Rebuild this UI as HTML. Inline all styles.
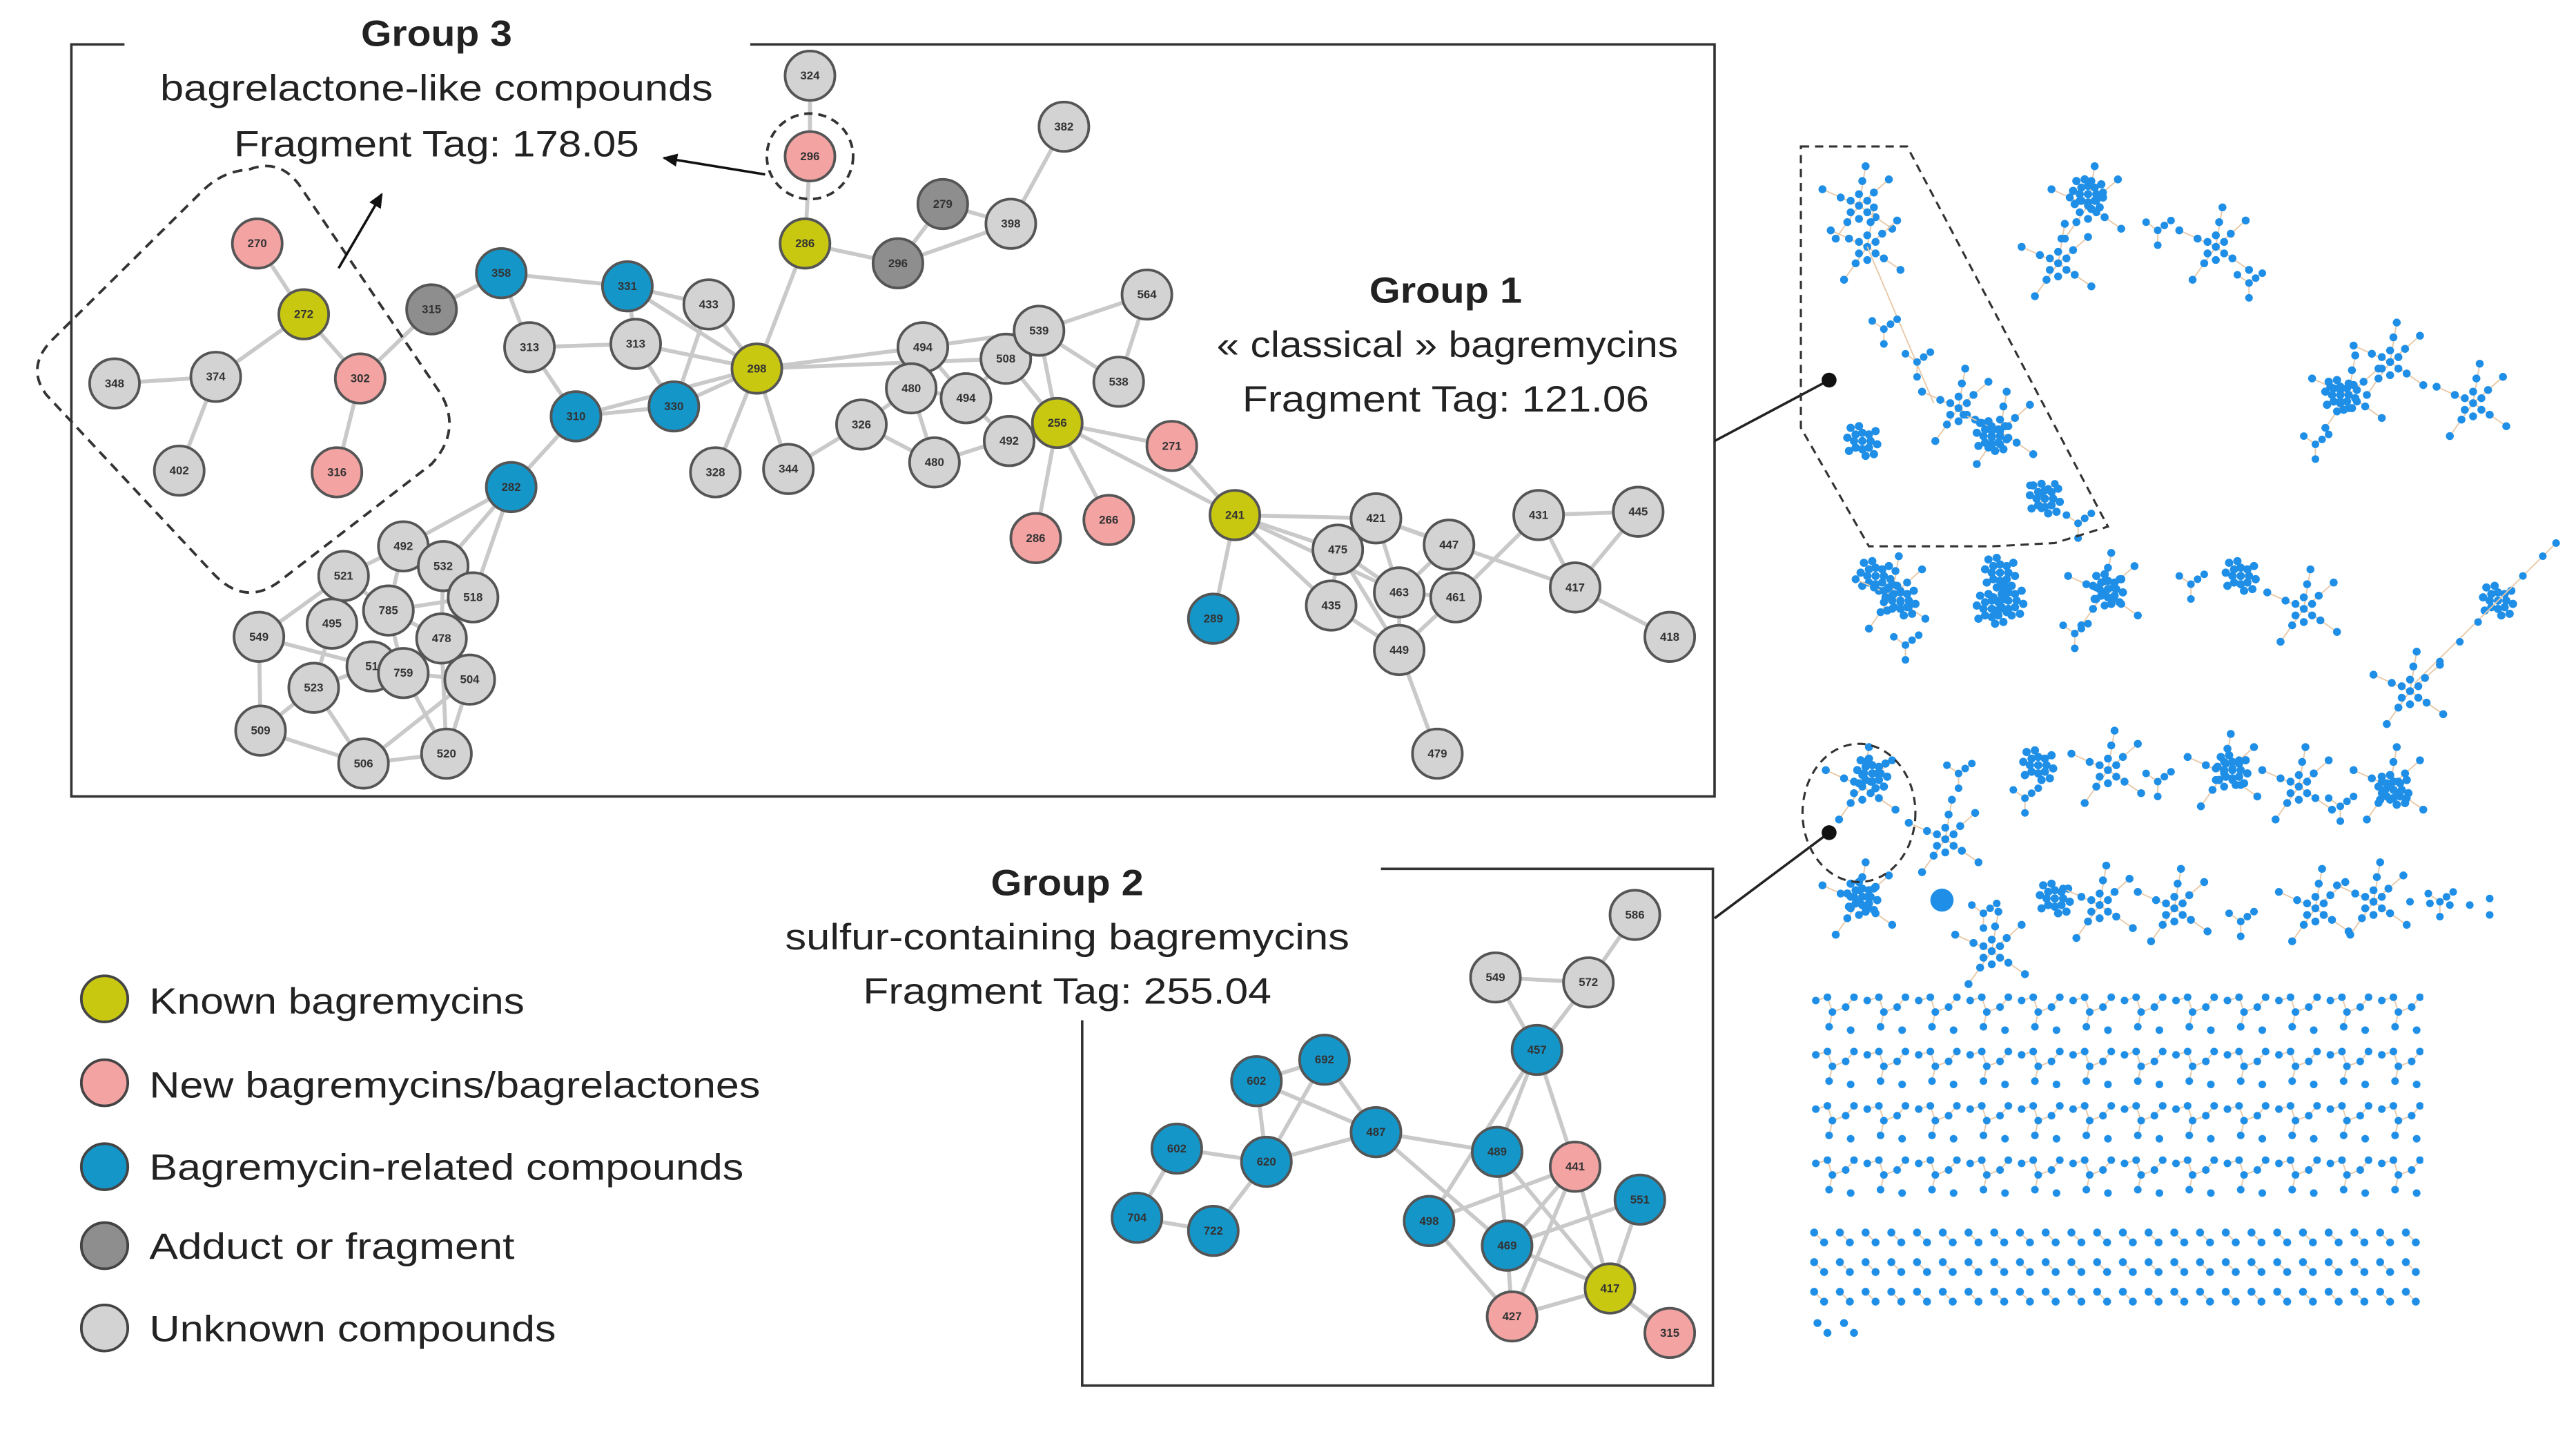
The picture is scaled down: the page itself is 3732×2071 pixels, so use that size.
<!DOCTYPE html>
<html><head><meta charset="utf-8"><style>
html,body{margin:0;padding:0;background:#fff;}
svg{display:block;}
.e{stroke:#c9c9c9;stroke-width:2.4;fill:none}
.n circle{stroke:#555;stroke-width:1.6}
.n text{font-family:"Liberation Sans",sans-serif;font-size:7px;font-weight:bold;fill:#333;text-anchor:middle;dominant-baseline:central}
.t{font-family:"Liberation Sans",sans-serif;fill:#222;text-anchor:middle}
.lg{font-family:"Liberation Sans",sans-serif;fill:#222;font-size:22px}
.d{fill:#1e8ee6}
.bl{stroke:#e8c9a8;stroke-width:0.8}
</style></head><body>
<svg width="3732" height="2071" viewBox="0 0 1552 869" preserveAspectRatio="none" xmlns="http://www.w3.org/2000/svg">
<defs>
<marker id="ar" markerWidth="10" markerHeight="10" refX="8" refY="5" orient="auto" markerUnits="userSpaceOnUse"><path d="M0,1 L9,5 L0,9 Z" fill="#111"/></marker>
<g id="star">
<g class="bl"><line x1="0" y1="0" x2="-22" y2="-10"/><line x1="0" y1="0" x2="18" y2="-16"/><line x1="0" y1="0" x2="20" y2="14"/><line x1="0" y1="0" x2="-14" y2="20"/><line x1="0" y1="0" x2="4" y2="-24"/></g>
<g class="d"><circle cx="0" cy="0" r="2.4"/><circle cx="5" cy="-3" r="2.4"/><circle cx="-5" cy="-3" r="2.4"/><circle cx="5" cy="4" r="2.4"/><circle cx="-5" cy="4" r="2.4"/><circle cx="0" cy="-7" r="2.4"/><circle cx="0" cy="8" r="2.4"/><circle cx="-11" cy="-5" r="2.4"/><circle cx="-22" cy="-10" r="2.4"/><circle cx="9" cy="-8" r="2.4"/><circle cx="18" cy="-16" r="2.4"/><circle cx="10" cy="7" r="2.4"/><circle cx="20" cy="14" r="2.4"/><circle cx="-7" cy="10" r="2.4"/><circle cx="-14" cy="20" r="2.4"/><circle cx="2" cy="-15" r="2.4"/><circle cx="4" cy="-24" r="2.4"/></g>
</g>
<g id="ball" class="d"><circle cx="0" cy="0" r="2.5"/><circle cx="5" cy="0" r="2.5"/><circle cx="-5" cy="0" r="2.5"/><circle cx="0" cy="5" r="2.5"/><circle cx="0" cy="-5" r="2.5"/><circle cx="4" cy="4" r="2.5"/><circle cx="-4" cy="4" r="2.5"/><circle cx="4" cy="-4" r="2.5"/><circle cx="-4" cy="-4" r="2.5"/><circle cx="9" cy="2" r="2.5"/><circle cx="-9" cy="-2" r="2.5"/><circle cx="2" cy="9" r="2.5"/><circle cx="-2" cy="-9" r="2.5"/><circle cx="8" cy="-6" r="2.5"/><circle cx="-8" cy="6" r="2.5"/><circle cx="7" cy="8" r="2.5"/><circle cx="-7" cy="-8" r="2.5"/></g>
<g id="small"><g class="bl"><line x1="0" y1="0" x2="8" y2="-6"/><line x1="0" y1="0" x2="-7" y2="-5"/><line x1="0" y1="0" x2="0" y2="9"/></g><g class="d"><circle cx="0" cy="0" r="2.3"/><circle cx="8" cy="-6" r="2.3"/><circle cx="-7" cy="-5" r="2.3"/><circle cx="0" cy="9" r="2.3"/><circle cx="4" cy="-3" r="2.3"/></g></g>
<pattern id="pm" x="1090" y="602" width="31" height="33" patternUnits="userSpaceOnUse">
<g class="bl"><line x1="4" y1="6" x2="11" y2="4"/><line x1="11" y1="4" x2="14" y2="13"/><line x1="14" y1="13" x2="22" y2="10"/><line x1="14" y1="13" x2="12" y2="22"/><line x1="22" y1="10" x2="27" y2="4"/></g>
<g class="d"><circle cx="4" cy="6" r="2.3"/><circle cx="11" cy="4" r="2.3"/><circle cx="14" cy="13" r="2.3"/><circle cx="22" cy="10" r="2.3"/><circle cx="12" cy="22" r="2.3"/><circle cx="27" cy="4" r="2.3"/><circle cx="25" cy="24" r="2.3"/></g>
</pattern>
<pattern id="pg" x="1090" y="746" width="15.5" height="18" patternUnits="userSpaceOnUse">
<line class="bl" x1="3" y1="3" x2="9" y2="9"/><circle class="d" cx="3" cy="3" r="2.4"/><circle class="d" cx="9" cy="9" r="2.4"/>
</pattern>
</defs>

<!-- Group 1 box -->
<path d="M75,27 L43,27 L43,484 L1033,484 L1033,27 L452,27" fill="none" stroke="#333" stroke-width="1.5"/>
<!-- Group 2 box -->
<path d="M652,620 L652,842 L1032,842 L1032,528 L832,528" fill="none" stroke="#333" stroke-width="1.5"/>

<!-- Group1 edges -->
<g class="e">
<line x1="155" y1="148" x2="183" y2="191"/><line x1="183" y1="191" x2="217" y2="230"/><line x1="183" y1="191" x2="130" y2="229"/><line x1="130" y1="229" x2="69" y2="233"/><line x1="130" y1="229" x2="108" y2="286"/><line x1="217" y1="230" x2="203" y2="287"/><line x1="217" y1="230" x2="260" y2="188"/><line x1="260" y1="188" x2="302" y2="166"/>
<line x1="302" y1="166" x2="319" y2="211"/><line x1="302" y1="166" x2="378" y2="174"/><line x1="378" y1="174" x2="427" y2="185"/><line x1="378" y1="174" x2="456" y2="224"/><line x1="378" y1="174" x2="383" y2="209"/><line x1="319" y1="211" x2="347" y2="253"/><line x1="319" y1="211" x2="383" y2="209"/><line x1="383" y1="209" x2="456" y2="224"/><line x1="383" y1="209" x2="406" y2="247"/><line x1="427" y1="185" x2="456" y2="224"/><line x1="427" y1="185" x2="406" y2="247"/><line x1="347" y1="253" x2="406" y2="247"/><line x1="347" y1="253" x2="456" y2="224"/><line x1="347" y1="253" x2="308" y2="296"/><line x1="406" y1="247" x2="456" y2="224"/>
<line x1="456" y1="224" x2="485" y2="148"/><line x1="485" y1="148" x2="488" y2="95"/><line x1="488" y1="95" x2="488" y2="46"/><line x1="485" y1="148" x2="541" y2="160"/><line x1="541" y1="160" x2="568" y2="124"/><line x1="541" y1="160" x2="609" y2="136"/><line x1="568" y1="124" x2="609" y2="136"/><line x1="609" y1="136" x2="641" y2="77"/>
<line x1="456" y1="224" x2="431" y2="287"/><line x1="456" y1="224" x2="475" y2="285"/><line x1="456" y1="224" x2="556" y2="211"/><line x1="456" y1="224" x2="606" y2="218"/><line x1="475" y1="285" x2="519" y2="258"/><line x1="519" y1="258" x2="549" y2="236"/><line x1="519" y1="258" x2="563" y2="281"/>
<line x1="556" y1="211" x2="549" y2="236"/><line x1="556" y1="211" x2="582" y2="242"/><line x1="556" y1="211" x2="626" y2="201"/><line x1="549" y1="236" x2="582" y2="242"/><line x1="549" y1="236" x2="563" y2="281"/><line x1="582" y1="242" x2="606" y2="218"/><line x1="582" y1="242" x2="608" y2="268"/><line x1="606" y1="218" x2="626" y2="201"/><line x1="606" y1="218" x2="637" y2="257"/><line x1="626" y1="201" x2="691" y2="179"/><line x1="626" y1="201" x2="674" y2="232"/><line x1="626" y1="201" x2="637" y2="257"/><line x1="608" y1="268" x2="637" y2="257"/><line x1="563" y1="281" x2="637" y2="257"/><line x1="691" y1="179" x2="674" y2="232"/>
<line x1="637" y1="257" x2="624" y2="327"/><line x1="637" y1="257" x2="668" y2="316"/><line x1="637" y1="257" x2="706" y2="271"/><line x1="637" y1="257" x2="744" y2="313"/><line x1="706" y1="271" x2="744" y2="313"/><line x1="744" y1="313" x2="731" y2="376"/>
<line x1="744" y1="313" x2="829" y2="315"/><line x1="744" y1="313" x2="806" y2="334"/><line x1="744" y1="313" x2="802" y2="368"/><line x1="744" y1="313" x2="843" y2="360"/><line x1="829" y1="315" x2="806" y2="334"/><line x1="829" y1="315" x2="873" y2="331"/><line x1="829" y1="315" x2="843" y2="360"/><line x1="806" y1="334" x2="843" y2="360"/><line x1="806" y1="334" x2="802" y2="368"/><line x1="806" y1="334" x2="843" y2="395"/><line x1="873" y1="331" x2="843" y2="360"/><line x1="873" y1="331" x2="877" y2="363"/><line x1="829" y1="315" x2="949" y2="357"/><line x1="843" y1="360" x2="877" y2="363"/><line x1="843" y1="360" x2="843" y2="395"/><line x1="802" y1="368" x2="843" y2="395"/><line x1="877" y1="363" x2="927" y2="313"/><line x1="877" y1="363" x2="843" y2="395"/><line x1="843" y1="395" x2="866" y2="458"/><line x1="927" y1="313" x2="949" y2="357"/><line x1="987" y1="311" x2="949" y2="357"/><line x1="927" y1="313" x2="987" y2="311"/><line x1="949" y1="357" x2="1006" y2="387"/>
<line x1="308" y1="296" x2="243" y2="332"/><line x1="308" y1="296" x2="267" y2="344"/><line x1="308" y1="296" x2="285" y2="363"/>
<line x1="243" y1="332" x2="207" y2="350"/><line x1="243" y1="332" x2="234" y2="371"/><line x1="207" y1="350" x2="234" y2="371"/><line x1="207" y1="350" x2="156" y2="387"/><line x1="234" y1="371" x2="285" y2="363"/><line x1="234" y1="371" x2="266" y2="388"/><line x1="234" y1="371" x2="243" y2="409"/><line x1="267" y1="344" x2="266" y2="388"/><line x1="156" y1="387" x2="224" y2="405"/><line x1="156" y1="387" x2="157" y2="444"/><line x1="266" y1="388" x2="283" y2="413"/><line x1="266" y1="388" x2="243" y2="409"/><line x1="243" y1="409" x2="283" y2="413"/><line x1="243" y1="409" x2="269" y2="458"/><line x1="224" y1="405" x2="189" y2="418"/><line x1="189" y1="418" x2="157" y2="444"/><line x1="189" y1="418" x2="219" y2="464"/><line x1="157" y1="444" x2="219" y2="464"/><line x1="219" y1="464" x2="269" y2="458"/><line x1="219" y1="464" x2="283" y2="413"/><line x1="283" y1="413" x2="269" y2="458"/><line x1="266" y1="388" x2="269" y2="458"/><line x1="200" y1="379" x2="189" y2="418"/>
</g>
<!-- Group2 edges -->
<g class="e">
<line x1="985" y1="556" x2="957" y2="597"/><line x1="901" y1="594" x2="957" y2="597"/><line x1="957" y1="597" x2="926" y2="638"/><line x1="901" y1="594" x2="926" y2="638"/><line x1="926" y1="638" x2="902" y2="700"/><line x1="926" y1="638" x2="949" y2="709"/><line x1="926" y1="638" x2="861" y2="742"/>
<line x1="757" y1="657" x2="798" y2="644"/><line x1="757" y1="657" x2="763" y2="706"/><line x1="757" y1="657" x2="829" y2="688"/><line x1="798" y1="644" x2="829" y2="688"/><line x1="798" y1="644" x2="763" y2="706"/><line x1="709" y1="698" x2="763" y2="706"/><line x1="709" y1="698" x2="685" y2="740"/><line x1="685" y1="740" x2="731" y2="748"/><line x1="763" y1="706" x2="731" y2="748"/><line x1="763" y1="706" x2="829" y2="688"/>
<line x1="829" y1="688" x2="902" y2="700"/><line x1="829" y1="688" x2="908" y2="757"/><line x1="902" y1="700" x2="908" y2="757"/><line x1="902" y1="700" x2="970" y2="783"/><line x1="949" y1="709" x2="908" y2="757"/><line x1="949" y1="709" x2="970" y2="783"/><line x1="949" y1="709" x2="861" y2="742"/><line x1="949" y1="709" x2="911" y2="800"/><line x1="861" y1="742" x2="911" y2="800"/><line x1="908" y1="757" x2="970" y2="783"/><line x1="908" y1="757" x2="911" y2="800"/><line x1="911" y1="800" x2="970" y2="783"/><line x1="970" y1="783" x2="1006" y2="810"/><line x1="988" y1="729" x2="970" y2="783"/><line x1="988" y1="729" x2="908" y2="757"/>
</g>

<!-- nodes -->
<g class="n">
<g fill="#d3d3d3">
<circle cx="69" cy="233" r="15"/><circle cx="130" cy="229" r="15"/><circle cx="108" cy="286" r="15"/><circle cx="427" cy="185" r="15"/><circle cx="319" cy="211" r="15"/><circle cx="383" cy="209" r="15"/><circle cx="488" cy="46" r="15"/><circle cx="609" cy="136" r="15"/><circle cx="641" cy="77" r="15"/><circle cx="431" cy="287" r="15"/><circle cx="475" cy="285" r="15"/><circle cx="519" cy="258" r="15"/><circle cx="556" cy="211" r="15"/><circle cx="549" cy="236" r="15"/><circle cx="582" cy="242" r="15"/><circle cx="606" cy="218" r="15"/><circle cx="626" cy="201" r="15"/><circle cx="563" cy="281" r="15"/><circle cx="608" cy="268" r="15"/><circle cx="691" cy="179" r="15"/><circle cx="674" cy="232" r="15"/>
<circle cx="829" cy="315" r="15"/><circle cx="806" cy="334" r="15"/><circle cx="873" cy="331" r="15"/><circle cx="843" cy="360" r="15"/><circle cx="877" cy="363" r="15"/><circle cx="802" cy="368" r="15"/><circle cx="843" cy="395" r="15"/><circle cx="866" cy="458" r="15"/><circle cx="927" cy="313" r="15"/><circle cx="987" cy="311" r="15"/><circle cx="949" cy="357" r="15"/><circle cx="1006" cy="387" r="15"/>
<circle cx="243" cy="332" r="15"/><circle cx="267" cy="344" r="15"/><circle cx="207" cy="350" r="15"/><circle cx="285" cy="363" r="15"/><circle cx="234" cy="371" r="15"/><circle cx="200" cy="379" r="15"/><circle cx="156" cy="387" r="15"/><circle cx="266" cy="388" r="15"/><circle cx="224" cy="405" r="15"/><circle cx="243" cy="409" r="15"/><circle cx="189" cy="418" r="15"/><circle cx="283" cy="413" r="15"/><circle cx="157" cy="444" r="15"/><circle cx="269" cy="458" r="15"/><circle cx="219" cy="464" r="15"/>
<circle cx="985" cy="556" r="15"/><circle cx="901" cy="594" r="15"/><circle cx="957" cy="597" r="15"/>
</g>
<g fill="#8e8e8e"><circle cx="260" cy="188" r="15"/><circle cx="568" cy="124" r="15"/><circle cx="541" cy="160" r="15"/></g>
<g fill="#f4a3a3"><circle cx="155" cy="148" r="15"/><circle cx="217" cy="230" r="15"/><circle cx="203" cy="287" r="15"/><circle cx="488" cy="95" r="15"/><circle cx="624" cy="327" r="15"/><circle cx="668" cy="316" r="15"/><circle cx="706" cy="271" r="15"/><circle cx="949" cy="709" r="15"/><circle cx="911" cy="800" r="15"/><circle cx="1006" cy="810" r="15"/></g>
<g fill="#c9c811"><circle cx="183" cy="191" r="15"/><circle cx="485" cy="148" r="15"/><circle cx="456" cy="224" r="15"/><circle cx="637" cy="257" r="15"/><circle cx="744" cy="313" r="15"/><circle cx="970" cy="783" r="15"/></g>
<g fill="#1596c9"><circle cx="302" cy="166" r="15"/><circle cx="378" cy="174" r="15"/><circle cx="347" cy="253" r="15"/><circle cx="406" cy="247" r="15"/><circle cx="308" cy="296" r="15"/><circle cx="731" cy="376" r="15"/>
<circle cx="926" cy="638" r="15"/><circle cx="757" cy="657" r="15"/><circle cx="798" cy="644" r="15"/><circle cx="709" cy="698" r="15"/><circle cx="763" cy="706" r="15"/><circle cx="829" cy="688" r="15"/><circle cx="902" cy="700" r="15"/><circle cx="988" cy="729" r="15"/><circle cx="685" cy="740" r="15"/><circle cx="731" cy="748" r="15"/><circle cx="861" cy="742" r="15"/><circle cx="908" cy="757" r="15"/></g>
<text x="155" y="148">270</text><text x="183" y="191">272</text><text x="217" y="230">302</text><text x="203" y="287">316</text><text x="69" y="233">348</text><text x="130" y="229">374</text><text x="108" y="286">402</text><text x="260" y="188">315</text><text x="302" y="166">358</text><text x="378" y="174">331</text><text x="427" y="185">433</text><text x="319" y="211">313</text><text x="383" y="209">313</text><text x="347" y="253">310</text><text x="406" y="247">330</text><text x="456" y="224">298</text><text x="308" y="296">282</text><text x="488" y="46">324</text><text x="488" y="95">296</text><text x="485" y="148">286</text><text x="568" y="124">279</text><text x="541" y="160">296</text><text x="609" y="136">398</text><text x="641" y="77">382</text><text x="431" y="287">328</text><text x="475" y="285">344</text><text x="519" y="258">326</text><text x="556" y="211">494</text><text x="549" y="236">480</text><text x="582" y="242">494</text><text x="606" y="218">508</text><text x="626" y="201">539</text><text x="563" y="281">480</text><text x="608" y="268">492</text><text x="637" y="257">256</text><text x="691" y="179">564</text><text x="674" y="232">538</text><text x="624" y="327">286</text><text x="668" y="316">266</text><text x="706" y="271">271</text><text x="744" y="313">241</text><text x="731" y="376">289</text><text x="829" y="315">421</text><text x="806" y="334">475</text><text x="873" y="331">447</text><text x="843" y="360">463</text><text x="877" y="363">461</text><text x="802" y="368">435</text><text x="843" y="395">449</text><text x="866" y="458">479</text><text x="927" y="313">431</text><text x="987" y="311">445</text><text x="949" y="357">417</text><text x="1006" y="387">418</text>
<text x="243" y="332">492</text><text x="267" y="344">532</text><text x="207" y="350">521</text><text x="285" y="363">518</text><text x="234" y="371">785</text><text x="200" y="379">495</text><text x="156" y="387">549</text><text x="266" y="388">478</text><text x="224" y="405">51</text><text x="243" y="409">759</text><text x="189" y="418">523</text><text x="283" y="413">504</text><text x="157" y="444">509</text><text x="269" y="458">520</text><text x="219" y="464">506</text>
<text x="985" y="556">586</text><text x="901" y="594">549</text><text x="957" y="597">572</text><text x="926" y="638">457</text><text x="757" y="657">602</text><text x="798" y="644">692</text><text x="709" y="698">602</text><text x="763" y="706">620</text><text x="829" y="688">487</text><text x="902" y="700">489</text><text x="949" y="709">441</text><text x="988" y="729">551</text><text x="685" y="740">704</text><text x="731" y="748">722</text><text x="861" y="742">498</text><text x="908" y="757">469</text><text x="970" y="783">417</text><text x="911" y="800">427</text><text x="1006" y="810">315</text>
</g>

<!-- dashed annotations -->
<path d="M150,103 Q168,96 180,112 L266,240 Q278,262 260,282 L170,352 Q148,370 128,348 L28,240 Q16,224 30,208 L122,116 Q134,104 150,103 Z" fill="none" stroke="#333" stroke-width="1.6" stroke-dasharray="6,4"/>
<circle cx="488" cy="95" r="26" fill="none" stroke="#333" stroke-width="1.6" stroke-dasharray="5,3.5"/>
<line x1="204" y1="163" x2="230" y2="118" stroke="#111" stroke-width="1.5" marker-end="url(#ar)"/>
<line x1="461" y1="106" x2="400" y2="96" stroke="#111" stroke-width="1.5" marker-end="url(#ar)"/>

<!-- texts -->
<text class="t" x="263" y="28" font-size="22" font-weight="bold" textLength="91" lengthAdjust="spacingAndGlyphs">Group 3</text>
<text class="t" x="263" y="61" font-size="22" textLength="333" lengthAdjust="spacingAndGlyphs">bagrelactone-like compounds</text>
<text class="t" x="263" y="95" font-size="22" textLength="244" lengthAdjust="spacingAndGlyphs">Fragment Tag: 178.05</text>
<text class="t" x="871" y="184" font-size="22" font-weight="bold" textLength="92" lengthAdjust="spacingAndGlyphs">Group 1</text>
<text class="t" x="872" y="217" font-size="22" textLength="278" lengthAdjust="spacingAndGlyphs">« classical » bagremycins</text>
<text class="t" x="871" y="250" font-size="22" textLength="245" lengthAdjust="spacingAndGlyphs">Fragment Tag: 121.06</text>
<text class="t" x="643" y="544" font-size="22" font-weight="bold" textLength="92" lengthAdjust="spacingAndGlyphs">Group 2</text>
<text class="t" x="643" y="577" font-size="22" textLength="340" lengthAdjust="spacingAndGlyphs">sulfur-containing bagremycins</text>
<text class="t" x="643" y="610" font-size="22" textLength="246" lengthAdjust="spacingAndGlyphs">Fragment Tag: 255.04</text>

<!-- legend -->
<g stroke="#444" stroke-width="1.6">
<circle cx="63" cy="607" r="14" fill="#c9c811"/><circle cx="63" cy="658" r="14" fill="#f4a3a3"/><circle cx="63" cy="709" r="14" fill="#1596c9"/><circle cx="63" cy="757" r="14" fill="#8e8e8e"/><circle cx="63" cy="807" r="14" fill="#d3d3d3"/>
</g>
<text class="lg" x="90" y="616" textLength="226" lengthAdjust="spacingAndGlyphs">Known bagremycins</text>
<text class="lg" x="90" y="667" textLength="368" lengthAdjust="spacingAndGlyphs">New bagremycins/bagrelactones</text>
<text class="lg" x="90" y="717" textLength="358" lengthAdjust="spacingAndGlyphs">Bagremycin-related compounds</text>
<text class="lg" x="90" y="765" textLength="220" lengthAdjust="spacingAndGlyphs">Adduct or fragment</text>
<text class="lg" x="90" y="815" textLength="245" lengthAdjust="spacingAndGlyphs">Unknown compounds</text>

<!-- connectors to right panel -->
<line x1="1033" y1="268" x2="1102" y2="231" stroke="#222" stroke-width="1.5"/><circle cx="1102" cy="231" r="4.5" fill="#111"/>
<line x1="1033" y1="558" x2="1102" y2="506" stroke="#222" stroke-width="1.5"/><circle cx="1102" cy="506" r="4.5" fill="#111"/>

<!-- right panel clusters -->
<g>
<use href="#star" x="1120" y="125"/><use href="#star" x="1125" y="150"/>
<line class="bl" x1="1125" y1="150" x2="1165" y2="245"/>
<use href="#small" x="1135" y="200"/><use href="#small" x="1155" y="220"/>
<use href="#ball" x="1122" y="268"/>
<use href="#star" x="1180" y="248"/><use href="#star" x="1205" y="262"/><use href="#ball" x="1200" y="265"/>
<use href="#small" x="1230" y="300"/><use href="#ball" x="1232" y="303"/><use href="#small" x="1252" y="318"/>
<use href="#star" x="1258" y="125"/><use href="#ball" x="1258" y="118"/><use href="#star" x="1240" y="160"/>
<use href="#small" x="1300" y="140"/><use href="#star" x="1335" y="150"/><use href="#small" x="1355" y="172"/>
<use href="#star" x="1415" y="240"/><use href="#ball" x="1410" y="240"/><use href="#star" x="1440" y="220"/><use href="#star" x="1490" y="245"/><use href="#small" x="1395" y="270"/>
<use href="#ball" x="1130" y="350"/><use href="#star" x="1140" y="362"/><use href="#ball" x="1145" y="365"/><use href="#small" x="1148" y="392"/>
<use href="#ball" x="1205" y="348"/><use href="#ball" x="1210" y="365"/><use href="#ball" x="1200" y="370"/>
<use href="#star" x="1268" y="360"/><use href="#ball" x="1270" y="358"/><use href="#small" x="1250" y="385"/>
<use href="#small" x="1320" y="355"/><use href="#ball" x="1350" y="350"/><use href="#star" x="1388" y="370"/>
<use href="#ball" x="1505" y="365"/><line class="bl" x1="1505" y1="365" x2="1540" y2="330"/><line class="bl" x1="1505" y1="365" x2="1455" y2="415"/>
<g class="d"><circle cx="1520" cy="350" r="2.3"/><circle cx="1532" cy="338" r="2.3"/><circle cx="1540" cy="330" r="2.3"/><circle cx="1493" cy="378" r="2.3"/><circle cx="1482" cy="390" r="2.3"/><circle cx="1470" cy="402" r="2.3"/></g>
<use href="#star" x="1452" y="420"/>
<use href="#star" x="1122" y="478"/><use href="#ball" x="1128" y="470"/><use href="#star" x="1172" y="510"/>
<use href="#small" x="1180" y="470"/><use href="#ball" x="1228" y="465"/><use href="#small" x="1220" y="485"/>
<use href="#star" x="1270" y="468"/><use href="#small" x="1300" y="475"/>
<use href="#star" x="1340" y="470"/><use href="#ball" x="1345" y="468"/><use href="#star" x="1385" y="478"/><use href="#small" x="1410" y="490"/>
<use href="#star" x="1440" y="478"/><use href="#ball" x="1442" y="480"/>
<use href="#star" x="1120" y="548"/><use href="#ball" x="1122" y="545"/>
<circle cx="1170" cy="547" r="7" fill="#1e8ee6"/>
<use href="#small" x="1195" y="555"/><use href="#star" x="1200" y="578"/>
<use href="#ball" x="1238" y="546"/><use href="#star" x="1265" y="550"/><use href="#star" x="1310" y="552"/><use href="#small" x="1350" y="560"/>
<use href="#star" x="1395" y="552"/><use href="#star" x="1430" y="548"/><use href="#small" x="1470" y="548"/>
<g class="d"><circle cx="1452" cy="548" r="2.3"/><circle cx="1464" cy="549" r="2.3"/><circle cx="1476" cy="550" r="2.3"/><circle cx="1488" cy="550" r="2.3"/><circle cx="1500" cy="546" r="2.3"/><circle cx="1500" cy="556" r="2.3"/></g>
<rect x="1090" y="602" width="370" height="133" fill="url(#pm)"/>
<rect x="1090" y="746" width="368" height="54" fill="url(#pg)"/>
<g class="d"><circle cx="1095" cy="804" r="2.4"/><circle cx="1101" cy="810" r="2.4"/><circle cx="1111" cy="804" r="2.4"/><circle cx="1117" cy="810" r="2.4"/></g>
</g>
<polygon points="1085,89 1149,89 1270,320 1238,330 1200,332 1126,332 1085,260" fill="none" stroke="#333" stroke-width="1.3" stroke-dasharray="5,3.5"/>
<ellipse cx="1120" cy="494" rx="34" ry="42" fill="none" stroke="#333" stroke-width="1.3" stroke-dasharray="5,3.5"/>
</svg>
</body></html>
